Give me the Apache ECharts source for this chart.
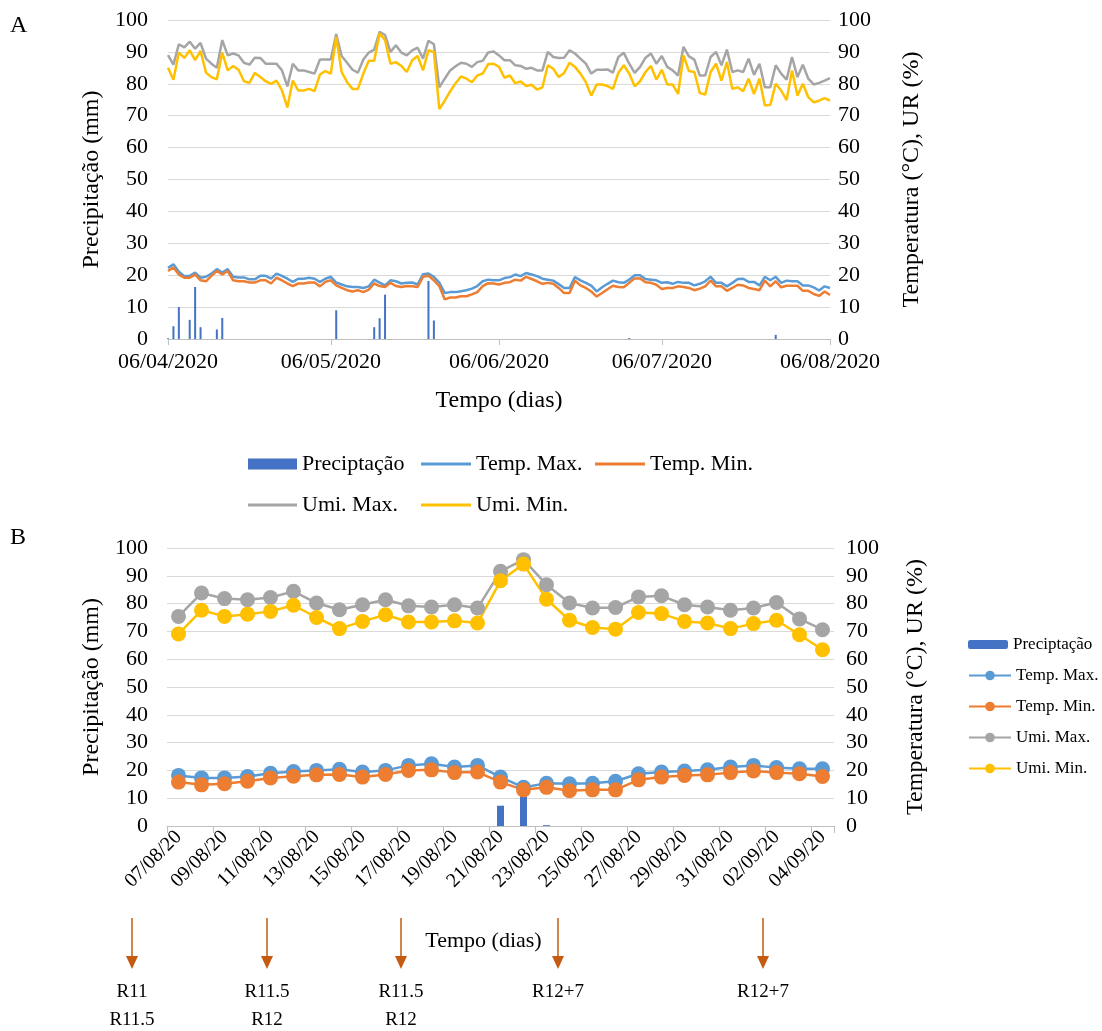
<!DOCTYPE html>
<html>
<head>
<meta charset="utf-8">
<script src="https://cdn.jsdelivr.net/npm/echarts@6/dist/echarts.min.js"></script>
<style>html,body{margin:0;padding:0;background:#fff}#c{width:1102px;height:1031px}</style>
</head>
<body>
<div id="c"></div>
<script>
// ---------- Panel A data (daily, 06/04/2020 .. 06/08/2020) ----------
const startA = '2020-04-06', endA = '2020-08-06';
const precipA = [0.2,4,10,0,6,16.3,3.7,0,0,3,6.6,0,0,0,0,0,0,0,0,0,0,0,0,0,0,0,0,0,0,0,0,9,0,0,0,0,0,0,3.7,6.5,13.9,0,0,0,0,0,0,0,18.2,5.8,0,0,0,0,0,0,0,0,0,0,0,0,0,0,0,0,0,0,0,0,0,0,0,0,0,0,0,0,0,0,0,0,0,0,0,0.3,0,0,0,0,0,0,0,0,0,0,0,0,0,0,0,0,0,0,0,0,0,0,0,0,0,0,1.3,0,0,0,0,0,0,0,0,0,0];
const tMaxA = [22.3,23.4,21.1,19.7,19.8,20.8,19.2,19.5,20.5,21.9,20.8,21.9,19.5,19.3,19.3,18.7,18.7,19.8,19.8,18.9,20.5,19.8,18.9,17.9,18.9,18.9,19.2,18.9,17.9,18.9,19.5,17.7,17.1,16.5,16.3,16.3,16,16.5,18.6,17.7,16.8,18.4,18.1,17.4,17.6,17.7,17.1,20.3,20.5,19.5,17.7,14.4,14.7,14.7,15,15.3,15.8,16.6,18.1,18.6,18.4,18.4,19.1,19.4,20.2,19.7,20.7,20.2,19.7,18.9,18.6,18.3,17.2,16,16,19.4,18.4,17.6,16.7,14.9,16.2,17.3,18.3,17.8,17.6,18.6,20,20,18.8,18.6,18.4,17.6,17.8,17.3,17.9,17.6,17.6,16.8,17.3,18.1,19.5,17.6,17.6,16.5,17.6,18.8,18.9,17.9,17.9,16.8,19.5,18.4,19.5,17.6,18.3,18.1,18.1,16.8,16.8,16.2,15.2,16.5,16];
const tMinA = [21.3,22.4,20.2,19.2,19.2,20.2,18.4,18.1,19.8,21.3,20.2,21.3,18.4,18.1,18.1,17.7,17.7,18.4,18.4,17.4,19.2,18.4,17.4,16.6,17.4,17.4,17.7,17.7,16.5,17.9,18.4,16.8,16,15.3,14.9,15.3,14.7,15.5,17.4,16.6,16.3,17.6,16.6,16.3,16.6,16.5,16.3,19.5,19.8,18.4,16.6,12.4,13,13,13.4,13.4,14,14.7,16.6,17.5,17.4,17.1,17.6,17.8,18.6,18.3,19.5,18.8,18.1,17.3,17.6,17.3,16,14.4,14.4,18.3,16.8,16,14.9,13.3,14.4,15.6,16.7,16.3,16.2,17.6,19,19,17.8,17.6,17,15.7,16,16,16.5,16.3,16,15.3,15.8,16.5,18.3,16.5,16.5,15.1,16,17,16.8,16,15.7,15.3,18.3,16.5,18.1,16.2,16.7,16.7,16.7,15.1,15.1,14.1,13.5,14.9,13.8];
const uMaxA = [89,86,92.4,91.4,93.2,91,92.8,87.9,86.3,85,93.7,88.9,89.5,88.9,86.6,86,88.2,88.1,86.3,86.3,86.3,84.2,79.2,86.3,84.2,84.2,83.7,83.2,87.6,87.6,87.6,95.6,88.7,86.6,84.4,83.5,87.6,89.8,90.7,96.3,95.3,90,92.1,89.8,88.9,90.5,91.3,87.9,93.5,92.4,78.9,81.6,84.2,85.5,86.6,86.3,85.3,86.8,87.2,89.8,90.1,88.9,87.4,87.4,85.8,85.6,84.7,85,84.2,84.2,90,88.4,88.1,88.2,90.5,89.5,87.9,86.3,83.2,84.4,84.4,84.5,83.5,88.4,89.7,86.3,83.4,85.3,88.2,89.5,86.3,88.7,85.3,84.2,82.6,91.6,88.6,87.6,82.6,82.6,88.4,90,85.8,90.7,83.7,84.2,83.7,87.9,82.8,86.3,78.9,78.9,85.8,83.2,81.3,88.4,82.1,86,81.6,79.8,80.3,81,81.8];
const uMinA = [85,81.3,89.8,88.1,90.5,87.4,90.3,83.5,82.1,81.4,89.8,84.2,85.6,84.4,80.8,80.3,83.4,82.1,80.8,80,81,77.9,72.6,81,77.9,77.9,78.4,77.7,82.9,84,83.2,94.7,83.7,80.5,78.4,78.4,83.2,87.2,87.2,95.8,93.7,86.3,86.8,85.6,83.7,87.4,88.7,84.2,90.5,90,72.1,74.7,77.6,80.2,82.3,81.6,80.5,82.6,83.2,86.2,86.3,85.3,81.9,82.6,80.2,80.7,79.3,79.7,78.2,78.9,85.8,84.7,82.1,83.4,86.6,85.3,83.2,80.5,76.3,79.8,79.8,79.3,78.4,83.5,85.8,83.2,79.2,80.8,83.7,85.6,81.3,84.4,79.8,79.8,76.8,88.9,84,83.7,77.1,76.6,83.7,86.3,81,86.8,78.4,78.9,77.7,81.6,76.8,81.6,73.2,73.4,80,77.9,74.9,84.2,76.3,80,75.8,74.2,74.7,75.5,74.7];

// ---------- Panel B data (07/08/20 .. 04/09/20) ----------
const catsB = ['07/08/20','08/08/20','09/08/20','10/08/20','11/08/20','12/08/20','13/08/20','14/08/20','15/08/20','16/08/20','17/08/20','18/08/20','19/08/20','20/08/20','21/08/20','22/08/20','23/08/20','24/08/20','25/08/20','26/08/20','27/08/20','28/08/20','29/08/20','30/08/20','31/08/20','01/09/20','02/09/20','03/09/20','04/09/20'];
const precipB = [0,0,0,0,0,0,0,0,0,0,0,0,0,0,7.3,12,0.3,0,0,0,0,0,0,0,0,0,0,0,0];
const tMaxB = [18.2,17.3,17.3,17.8,19,19.6,20,20.4,19.4,20,21.8,22.4,21.2,21.8,17.6,13.9,15.4,15.2,15.4,16.1,18.8,19.4,19.8,20.2,21.2,21.8,21,20.6,20.6];
const tMinB = [15.8,14.8,15.2,16.1,17.3,17.9,18.4,18.5,17.6,18.5,20,20.2,19.2,19.4,15.8,13,13.9,12.7,13,13,16.6,17.6,18.2,18.4,19.2,19.8,19.2,18.8,17.8];
const uMaxB = [75.4,83.8,81.8,81.4,82.2,84.4,80.2,77.8,79.6,81.4,79.2,78.8,79.6,78.4,91.6,95.8,86.8,80.2,78.4,78.6,82.4,82.8,79.6,78.8,77.6,78.4,80.4,74.5,70.6];
const uMinB = [69.1,77.6,75.4,76.2,77.2,79.4,75,71,73.6,76,73.4,73.4,73.8,73,88.2,94.2,81.6,74,71.4,70.8,76.8,76.4,73.6,73,71,72.8,74,68.8,63.4];

// ---------- Stage annotations below panel B ----------
const stageX = [132, 267, 401, 558, 763];
const stageLine1 = ['R11', 'R11.5', 'R11.5', 'R12+7', 'R12+7'];
const stageLine2 = ['R11.5', 'R12', 'R12', '', ''];

// categories for A (axis dates)
const catsA = [];
(function(){
  const d = new Date(startA + 'T12:00:00Z'), e = new Date(endA + 'T12:00:00Z');
  while (d <= e) {
    const dd = String(d.getUTCDate()).padStart(2,'0');
    const mm = String(d.getUTCMonth()+1).padStart(2,'0');
    catsA.push(dd + '/' + mm + '/' + d.getUTCFullYear());
    d.setUTCDate(d.getUTCDate()+1);
  }
})();

const FONT = '"Liberation Serif", "Times New Roman", serif';
const C = {bar:'#4472C4', tmax:'#5B9BD5', tmin:'#ED7D31', umax:'#A5A5A5', umin:'#FFC000'};
const GRID = '#D9D9D9';
const AX = '#BFBFBF';
const monthStart = (i, v) => v.startsWith('06/');

function yAx(grid, pos, name, gap, margin){
  return {
    type:'value', gridIndex:grid, position:pos, min:0, max:100, interval:10,
    name:name, nameLocation:'middle', nameGap:gap, nameRotate:90,
    nameTextStyle:{fontFamily:FONT, fontSize:24, color:'#000'},
    axisLine:{show:false}, axisTick:{show:false},
    axisLabel:{fontFamily:FONT, fontSize:22, color:'#000', margin:margin},
    splitLine:{show: pos==='left', lineStyle:{color:GRID, width:1}}
  };
}

const lineA = (name, data, color) => ({
  name, type:'line', xAxisIndex:0, yAxisIndex:1, data, symbol:'none',
  lineStyle:{color, width:2.5}, itemStyle:{color}
});
const lineB = (name, data, color) => ({
  name:'B:'+name, type:'line', xAxisIndex:1, yAxisIndex:3, data, symbol:'circle', symbolSize:15,
  lineStyle:{color, width:2.5}, itemStyle:{color}
});

const legA = (name, left, top, w, h, icon) => ({
  data:[name], left, top, itemWidth:w, itemHeight:h, itemGap:0, padding:0, icon:icon,
  textStyle:{fontFamily:FONT, fontSize:22, color:'#000'}
});
const legB = (name, top, w, h) => ({
  data:['B:'+name], left:968, top, itemWidth:w, itemHeight:h, itemGap:0, padding:0,
  formatter:(n) => n.slice(2),
  textStyle:{fontFamily:FONT, fontSize:17, color:'#000'}
});

const graphic = [
  {type:'text', left:10, top:14, style:{text:'A', font:'24px ' + FONT, fill:'#000'}},
  {type:'text', left:10, top:526, style:{text:'B', font:'24px ' + FONT, fill:'#000'}}
];
stageX.forEach((x, i) => {
  graphic.push({type:'line', shape:{x1:x, y1:918, x2:x, y2:958}, style:{stroke:'#C55A11', lineWidth:1.5}});
  graphic.push({type:'polygon', shape:{points:[[x-6,956],[x+6,956],[x,969]]}, style:{fill:'#C55A11'}});
  graphic.push({type:'text', x:x, y:992, style:{text:stageLine1[i], font:'19px ' + FONT, fill:'#000', textAlign:'center', textVerticalAlign:'middle'}});
  if (stageLine2[i]) graphic.push({type:'text', x:x, y:1020, style:{text:stageLine2[i], font:'19px ' + FONT, fill:'#000', textAlign:'center', textVerticalAlign:'middle'}});
});

const option = {
  animation:false,
  backgroundColor:'#fff',
  grid:[
    {left:168, top:20, width:662, height:319},
    {left:167, top:548, width:667, height:278}
  ],
  xAxis:[
    {type:'category', gridIndex:0, data:catsA, boundaryGap:false,
     name:'Tempo (dias)', nameLocation:'middle', nameGap:50,
     nameTextStyle:{fontFamily:FONT, fontSize:24, color:'#000'},
     axisLine:{lineStyle:{color:AX}},
     axisTick:{show:true, interval:monthStart, length:6, lineStyle:{color:AX}},
     axisLabel:{interval:monthStart, fontFamily:FONT, fontSize:22, color:'#000', margin:12, showMinLabel:true, showMaxLabel:true},
     splitLine:{show:false}},
    {type:'category', gridIndex:1, data:catsB, boundaryGap:true,
     name:'Tempo (dias)', nameLocation:'middle', nameGap:104,
     nameTextStyle:{fontFamily:FONT, fontSize:22, color:'#000', padding:[0,34,0,0]},
     axisLine:{lineStyle:{color:AX}},
     axisTick:{show:true, interval:1, length:7, lineStyle:{color:AX}},
     axisLabel:{interval:1, rotate:45, fontFamily:FONT, fontSize:20, color:'#000', margin:8},
     splitLine:{show:false}}
  ],
  yAxis:[
    yAx(0,'left','Precipitação (mm)',57,20),
    yAx(0,'right','Temperatura (°C), UR (%)',70,8),
    yAx(1,'left','Precipitação (mm)',58,19),
    yAx(1,'right','Temperatura (°C), UR (%)',70,12)
  ],
  legend:[
    legA('Preciptação',248,453,49,11,'rect'),
    legA('Temp. Max.',421,453,50,3,'rect'),
    legA('Temp. Min.',595,453,50,3,'rect'),
    legA('Umi. Max.',248,494,49,3,'rect'),
    legA('Umi. Min.',421,494,50,3,'rect'),
    legB('Preciptação',636,40,9),
    legB('Temp. Max.',667,42,12),
    legB('Temp. Min.',698,42,12),
    legB('Umi. Max.',729,42,12),
    legB('Umi. Min.',760,42,12)
  ],
  series:[
    {name:'Preciptação', type:'bar', xAxisIndex:0, yAxisIndex:0, data:precipA, barWidth:2, itemStyle:{color:C.bar}},
    lineA('Temp. Max.', tMaxA, C.tmax),
    lineA('Temp. Min.', tMinA, C.tmin),
    lineA('Umi. Max.', uMaxA, C.umax),
    lineA('Umi. Min.', uMinA, C.umin),
    {name:'B:Preciptação', type:'bar', xAxisIndex:1, yAxisIndex:2, data:precipB, barWidth:7, itemStyle:{color:C.bar}},
    lineB('Temp. Max.', tMaxB, C.tmax),
    lineB('Temp. Min.', tMinB, C.tmin),
    lineB('Umi. Max.', uMaxB, C.umax),
    lineB('Umi. Min.', uMinB, C.umin)
  ],
  graphic
};

const chart = echarts.init(document.getElementById('c'), null, {renderer:'canvas'});
chart.setOption(option);
</script>
</body>
</html>
